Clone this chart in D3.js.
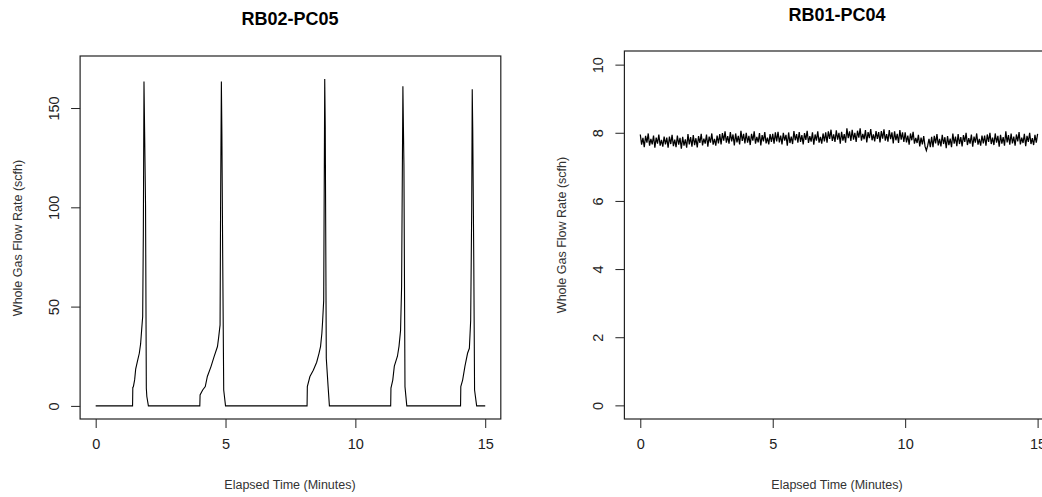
<!DOCTYPE html>
<html>
<head>
<meta charset="utf-8">
<script src="https://cdn.jsdelivr.net/npm/d3@7"></script>
<style>
  html, body { margin: 0; padding: 0; background: #fff; }
  svg { display: block; font-family: "Liberation Sans", Arial, sans-serif; }
</style>
</head>
<body>
<svg id="chart" width="1042" height="497"></svg>
<script>
// ---------------- DATA ----------------
const xTicks = [0, 5, 10, 15];
const leftYTicks = [0, 50, 100, 150];
const rightYTicks = [0, 2, 4, 6, 8, 10];

const leftTitle = "RB02-PC05";
const rightTitle = "RB01-PC04";
const xAxisTitle = "Elapsed Time (Minutes)";
const yAxisTitle = "Whole Gas Flow Rate (scfh)";

// RB02-PC05: elapsed time (min) and flow (scfh) at the line's vertices
const leftTime = [
  0, 1.42, 1.43, 1.45, 1.50, 1.54, 1.62, 1.68, 1.73, 1.77, 1.81, 1.835, 1.86, 1.885, 1.92, 1.95, 1.97, 2.03,
  4.01, 4.02, 4.12, 4.22, 4.30, 4.44, 4.56, 4.69, 4.74, 4.79, 4.81, 4.84, 4.86, 4.89, 4.93, 5.00,
  8.14, 8.15, 8.25, 8.38, 8.51, 8.60, 8.66, 8.71, 8.74, 8.78, 8.82, 8.84, 8.88, 8.95, 9.00,
  11.36, 11.37, 11.44, 11.50, 11.62, 11.68, 11.74, 11.78, 11.83, 11.85, 11.87, 11.91, 11.98,
  14.05, 14.06, 14.13, 14.22, 14.32, 14.39, 14.44, 14.48, 14.50, 14.52, 14.56, 14.59, 14.67, 15.00
];
const leftFlow = [
  0, 0, 9.4, 9.6, 13.1, 18.5, 23.2, 26.5, 31.2, 38.3, 45, 86.9, 163.3, 138, 101, 8.9, 4.7, 0,
  0, 5.5, 8, 9.7, 14.8, 19.8, 24.8, 29.9, 35, 40.8, 102, 163.3, 137, 77, 8, 0,
  0, 9.7, 14.8, 18, 22, 26.5, 30, 36.6, 43, 53, 164.6, 140.6, 24, 9.7, 0,
  0, 9, 13, 20, 25, 30, 38, 60, 161, 140.6, 121, 9.7, 0,
  0, 9.7, 13, 20, 26.5, 29, 43, 100, 159.4, 139, 72, 8, 0, 0
];

// RB01-PC04: flow (scfh) read every 0.05 min from 0 to 15 min
const rightStart = 0;
const rightStep = 0.05;
const rightFlow = [
  7.95, 7.65, 7.85, 7.58, 7.91, 7.71, 7.98, 7.62, 7.82, 7.66, 7.92, 7.56, 7.86, 7.68, 7.95, 7.62, 7.79, 7.59, 7.89, 7.66,
  7.86, 7.56, 7.89, 7.67, 7.94, 7.61, 7.80, 7.58, 7.92, 7.65, 7.85, 7.53, 7.88, 7.62, 7.81, 7.56, 7.96, 7.66, 7.87, 7.59,
  7.93, 7.64, 7.84, 7.57, 7.90, 7.70, 7.97, 7.63, 7.83, 7.68, 7.95, 7.59, 7.89, 7.71, 7.98, 7.65, 7.82, 7.62, 7.92, 7.69,
  7.96, 7.66, 7.99, 7.77, 8.04, 7.71, 7.90, 7.68, 8.02, 7.75, 7.95, 7.63, 7.98, 7.72, 7.91, 7.66, 8.06, 7.76, 7.97, 7.69,
  8.00, 7.71, 7.91, 7.64, 7.97, 7.77, 8.04, 7.68, 7.88, 7.72, 7.99, 7.63, 7.93, 7.75, 8.02, 7.69, 7.86, 7.66, 7.96, 7.73,
  7.97, 7.68, 8.01, 7.75, 8.03, 7.72, 7.92, 7.66, 8.00, 7.77, 7.94, 7.62, 8.01, 7.70, 7.89, 7.67, 8.05, 7.78, 7.96, 7.71,
  8.02, 7.73, 7.93, 7.66, 7.99, 7.79, 8.06, 7.70, 7.90, 7.74, 8.01, 7.65, 7.95, 7.77, 8.04, 7.71, 7.88, 7.68, 7.98, 7.75,
  8.01, 7.71, 8.04, 7.82, 8.09, 7.76, 7.95, 7.73, 8.07, 7.80, 8.00, 7.68, 8.03, 7.77, 7.96, 7.71, 8.13, 7.84, 8.04, 7.76,
  8.09, 7.80, 8.00, 7.73, 8.06, 7.86, 8.13, 7.77, 7.97, 7.81, 8.08, 7.72, 8.02, 7.84, 8.11, 7.78, 7.95, 7.75, 8.05, 7.82,
  8.02, 7.72, 8.05, 7.83, 8.10, 7.77, 7.96, 7.74, 8.08, 7.81, 8.01, 7.69, 8.04, 7.78, 7.97, 7.70, 8.08, 7.80, 8.01, 7.73,
  8.01, 7.72, 7.92, 7.65, 7.98, 7.78, 8.03, 7.68, 7.85, 7.70, 7.94, 7.60, 7.86, 7.66, 7.90, 7.60, 7.48, 7.62, 7.82, 7.58,
  7.88, 7.58, 7.91, 7.69, 7.96, 7.63, 7.82, 7.60, 7.94, 7.67, 7.87, 7.55, 7.90, 7.64, 7.83, 7.58, 7.98, 7.68, 7.89, 7.61,
  7.96, 7.67, 7.87, 7.60, 7.93, 7.73, 8.00, 7.64, 7.84, 7.68, 7.95, 7.59, 7.89, 7.71, 7.98, 7.65, 7.82, 7.62, 7.92, 7.69,
  7.92, 7.62, 7.95, 7.73, 8.00, 7.67, 7.86, 7.64, 7.98, 7.71, 7.91, 7.59, 7.94, 7.68, 7.87, 7.62, 8.04, 7.72, 7.93, 7.65,
  7.98, 7.69, 7.89, 7.62, 7.95, 7.75, 8.02, 7.66, 7.86, 7.70, 7.97, 7.61, 7.91, 7.73, 8.00, 7.67, 7.84, 7.64, 7.94, 7.71,
  7.97
];

// ---------------- DRAW ----------------
const svg = d3.select("#chart");
svg.append("rect").attr("width", 1042).attr("height", 497).attr("fill", "#fff");

function panel(cfg) {
  const x = d3.scaleLinear().domain([-0.6, 15.6]).range(cfg.xRange);
  const y = d3.scaleLinear().domain(cfg.yDomain).range(cfg.yRange);
  const g = svg.append("g");

  // line
  const line = d3.line().x(d => x(d[0])).y(d => y(d[1]));
  g.append("path")
    .datum(cfg.data)
    .attr("d", line)
    .attr("fill", "none")
    .attr("stroke", "#000")
    .attr("stroke-width", cfg.lineWidth)
    .attr("stroke-linejoin", "miter");

  // box
  const [x0, x1] = cfg.xRange;
  const [yb, yt] = cfg.yRange;
  g.append("rect")
    .attr("x", x0).attr("y", yt)
    .attr("width", x1 - x0).attr("height", yb - yt)
    .attr("fill", "none").attr("stroke", "#222").attr("stroke-width", 1.2);

  // x axis (ticks + labels)
  const xa = d3.axisBottom(x).tickValues(xTicks).tickSize(9).tickPadding(11).tickFormat(d3.format("d"));
  const gx = g.append("g").attr("transform", `translate(0,${yb})`).call(xa);
  gx.select(".domain").remove();
  gx.selectAll(".tick line").attr("stroke", "#222");
  gx.selectAll(".tick text")
    .attr("font-size", 14.5).attr("fill", "#222")
    .attr("font-family", "Liberation Sans, Arial, sans-serif")
    .attr("dy", "0.71em");

  // y axis (ticks + rotated labels)
  const ya = d3.axisLeft(y).tickValues(cfg.yTicks).tickSize(9).tickFormat(d3.format("d"));
  const gy = g.append("g").attr("transform", `translate(${x0},0)`).call(ya);
  gy.select(".domain").remove();
  gy.selectAll(".tick line").attr("stroke", "#222");
  gy.selectAll(".tick text")
    .attr("x", null).attr("dy", null)
    .attr("font-size", 14.5).attr("fill", "#222")
    .attr("font-family", "Liberation Sans, Arial, sans-serif")
    .attr("text-anchor", "middle")
    .attr("transform", `translate(${cfg.yLabelX - x0},0) rotate(-90)`);

  // titles
  svg.append("text")
    .attr("x", cfg.titleX).attr("y", cfg.titleY)
    .attr("text-anchor", "middle")
    .attr("font-size", 18).attr("font-weight", "bold").attr("fill", "#000")
    .text(cfg.title);
  svg.append("text")
    .attr("x", cfg.titleX).attr("y", 489)
    .attr("text-anchor", "middle")
    .attr("font-size", 12.5).attr("fill", "#333")
    .text(xAxisTitle);
  svg.append("text")
    .attr("transform", `translate(${cfg.yTitleX},${cfg.yTitleY}) rotate(-90)`)
    .attr("text-anchor", "middle")
    .attr("font-size", 12.5).attr("fill", "#333")
    .text(yAxisTitle);
}

panel({
  data: leftTime.map((t, i) => [t, leftFlow[i]]),
  xRange: [80.1, 500.8],
  yDomain: [-6.6, 176.2],
  yRange: [419, 56],
  yTicks: leftYTicks,
  yLabelX: 58.5,
  lineWidth: 1.1,
  title: leftTitle, titleX: 290, titleY: 25,
  yTitleX: 21.5, yTitleY: 238
});

panel({
  data: rightFlow.map((v, i) => [rightStart + i * rightStep, v]),
  xRange: [624.4, 1053.5],
  yDomain: [-0.4, 10.4],
  yRange: [419, 51],
  yTicks: rightYTicks,
  yLabelX: 602.5,
  lineWidth: 1.25,
  title: rightTitle, titleX: 837, titleY: 20.5,
  yTitleX: 566, yTitleY: 235
});
</script>
</body>
</html>
